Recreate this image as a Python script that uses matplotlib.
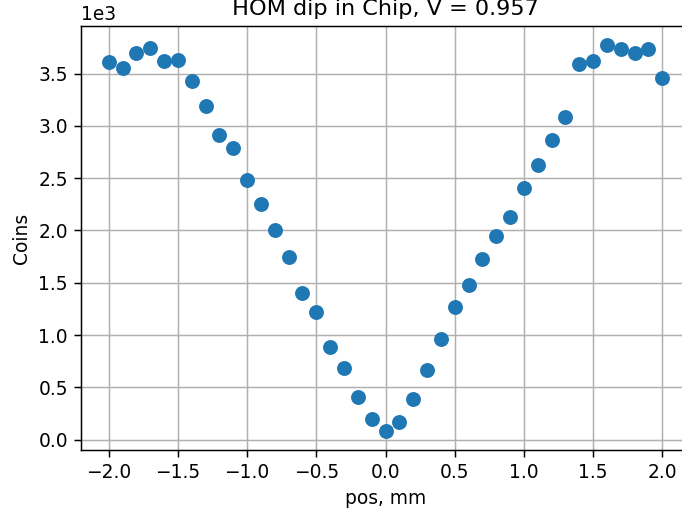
import numpy as np
import matplotlib
matplotlib.use('Agg')
import matplotlib.pyplot as plt

# Stage positions (mm) and coincidence counts
pos = [-2.0, -1.9, -1.8, -1.7, -1.6, -1.5, -1.4, -1.3, -1.2, -1.1,
       -1.0, -0.9, -0.8, -0.7, -0.6, -0.5, -0.4, -0.3, -0.2, -0.1,
       0.0, 0.1, 0.2, 0.3, 0.4, 0.5, 0.6, 0.7, 0.8, 0.9,
       1.0, 1.1, 1.2, 1.3, 1.4, 1.5, 1.6, 1.7, 1.8, 1.9, 2.0]
coins = [3610, 3550, 3700, 3740, 3620, 3630, 3430, 3190, 2910, 2790,
         2480, 2250, 2005, 1750, 1400, 1220, 885, 680, 405, 200,
         85, 170, 385, 670, 960, 1265, 1475, 1730, 1945, 2125,
         2405, 2625, 2860, 3085, 3595, 3615, 3770, 3730, 3700, 3735, 3460]
visibility = 0.957

dpi = 134
fig = plt.figure(figsize=(682/dpi, 513/dpi), dpi=dpi)
# axes run past the right edge of the canvas
ax = fig.add_axes([81/682, (513-450)/513, (690-81)/682, (450-26)/513])
ax.plot(pos, coins, 'o', markersize=7, color='tab:blue')
ax.set_xlabel('pos, mm')
ax.set_ylabel('Coins')
ax.set_title(f'HOM dip in Chip, V = {visibility}')
ax.ticklabel_format(axis='y', style='sci', scilimits=(0, 0))
ax.grid(True)

plt.savefig('out.png', dpi=dpi)
